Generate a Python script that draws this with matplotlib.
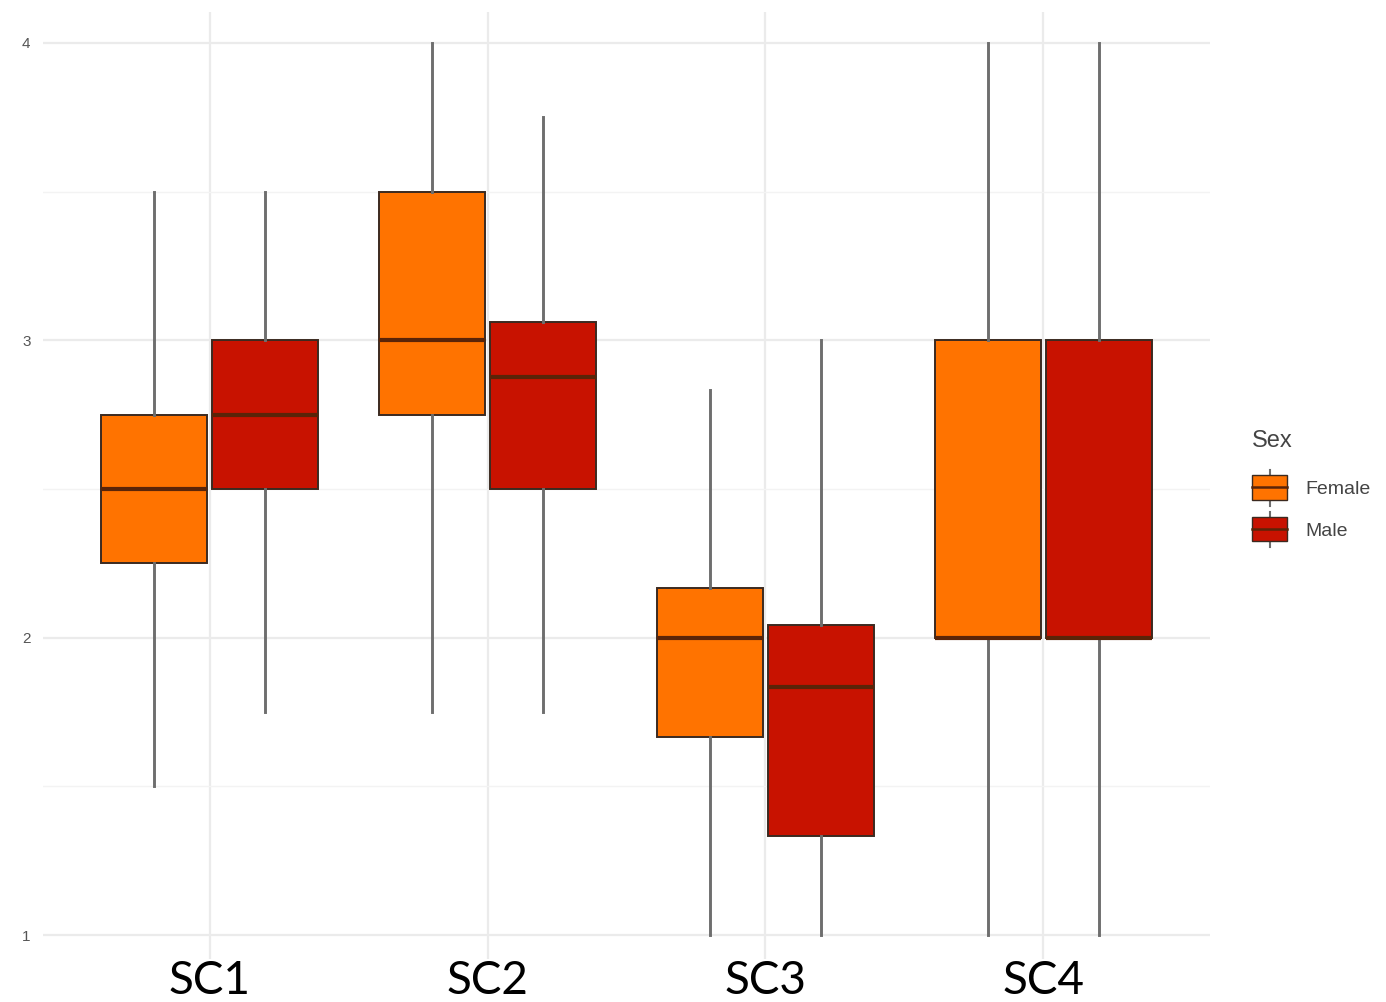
import matplotlib.pyplot as plt
from matplotlib.patches import Rectangle
from matplotlib.lines import Line2D

# Scores per scale, split by sex (quartile summaries)
scales = ['SC1', 'SC2', 'SC3', 'SC4']
sexes = ['Female', 'Male']

female_low = [1.5, 1.75, 1.0, 1.0]
female_q1 = [2.25, 2.75, 1.667, 2.0]
female_med = [2.5, 3.0, 2.0, 2.0]
female_q3 = [2.75, 3.5, 2.167, 3.0]
female_high = [3.5, 4.0, 2.833, 4.0]

male_low = [1.75, 1.75, 1.0, 1.0]
male_q1 = [2.5, 2.5, 1.333, 2.0]
male_med = [2.75, 2.875, 1.833, 2.0]
male_q3 = [3.0, 3.0625, 2.042, 3.0]
male_high = [3.5, 3.75, 3.0, 4.0]

colors = {'Female': '#ff7300', 'Male': '#c81200'}
edge = '#3b2a20'
whisker_col = '#6e6e6e'
ui_font = ['Liberation Sans', 'DejaVu Sans']


def make_stats(low, q1, med, q3, high):
    return [dict(whislo=a, q1=b, med=c, q3=d, whishi=e, fliers=[])
            for a, b, c, d, e in zip(low, q1, med, q3, high)]


groups = {
    'Female': make_stats(female_low, female_q1, female_med, female_q3, female_high),
    'Male': make_stats(male_low, male_q1, male_med, male_q3, male_high),
}
offsets = {'Female': -0.2, 'Male': 0.2}

fig = plt.figure(figsize=(13.86, 10.02), dpi=100)
ax = fig.add_axes([43 / 1386, 1 - 966 / 1002, (1210 - 43) / 1386, (966 - 12) / 1002])

for sex in sexes:
    pos = [i + 1 + offsets[sex] for i in range(len(scales))]
    ax.bxp(groups[sex], positions=pos, widths=0.38, patch_artist=True,
           showcaps=False, showfliers=False,
           boxprops=dict(facecolor=colors[sex], edgecolor=edge, linewidth=1.4),
           medianprops=dict(color='#5a2408', linewidth=3),
           whiskerprops=dict(color=whisker_col, linewidth=2.1),
           zorder=3)

# ggplot-like minimal theme
ax.set_xlim(0.4, 4.6)
ax.set_ylim(0.896, 4.104)
ax.set_yticks([1, 2, 3, 4])
ax.set_yticks([1.5, 2.5, 3.5], minor=True)
ax.set_yticklabels(['1', '2', '3', '4'], family=ui_font)
ax.set_xticks(range(1, len(scales) + 1))
ax.set_xticklabels(scales, fontsize=33, family=['Lato', 'DejaVu Sans'])
ax.grid(True, which='major', color='#ebebeb', linewidth=1.6, zorder=0)
ax.grid(True, which='minor', axis='y', color='#f3f3f3', linewidth=1.0, zorder=0)
for s in ax.spines.values():
    s.set_visible(False)
ax.tick_params(axis='y', which='both', length=0, labelsize=11, labelcolor='#555555', pad=9)
ax.tick_params(axis='x', length=0, pad=-4, labelcolor='black')
for lbl in ax.get_xticklabels():
    lbl.set_bbox(dict(facecolor='white', edgecolor='none', pad=1))
ax.set_axisbelow(True)


class BoxKey:
    # legend key drawn as a tiny boxplot: whisker, box and median
    def legend_artist(self, legend, orig_handle, fontsize, handlebox):
        x0 = handlebox.xdescent
        y0 = handlebox.ydescent - 8  # centre the box on the label text
        w, h = handlebox.width, handlebox.height
        tr = handlebox.get_transform()
        fc = orig_handle.get_facecolor()
        cx = x0 + w / 2
        whisk = Line2D([cx, cx], [y0 - 0.25 * h, y0 + 1.2 * h], color=whisker_col,
                       linewidth=1.5, transform=tr)
        box = Rectangle((x0, y0), w, h, facecolor=fc, edgecolor=edge, linewidth=1.0,
                        transform=tr)
        med = Line2D([x0, x0 + w], [y0 + h / 2, y0 + h / 2], color='#5a2408',
                     linewidth=1.8, transform=tr)
        handlebox.add_artist(whisk)
        handlebox.add_artist(box)
        handlebox.add_artist(med)
        return box


handles = [Rectangle((0, 0), 1, 1, facecolor=colors[s]) for s in sexes]
leg = fig.legend(handles, sexes, title='Sex', loc='upper left',
                 bbox_to_anchor=(1252 / 1386, 1 - 430 / 1002), frameon=False,
                 borderpad=0, borderaxespad=0,
                 handler_map={Rectangle: BoxKey()},
                 prop={'family': ui_font, 'size': 14},
                 title_fontproperties={'family': ui_font, 'size': 17},
                 handlelength=1.8, handleheight=1.55,
                 handletextpad=0.95, labelspacing=0.88, labelcolor='#444444')
leg.get_title().set_color('#444444')
leg._legend_box.align = 'left'
leg._legend_box.sep = 17  # extra room between title and keys

fig.savefig('out.png', dpi=100, facecolor='white')
